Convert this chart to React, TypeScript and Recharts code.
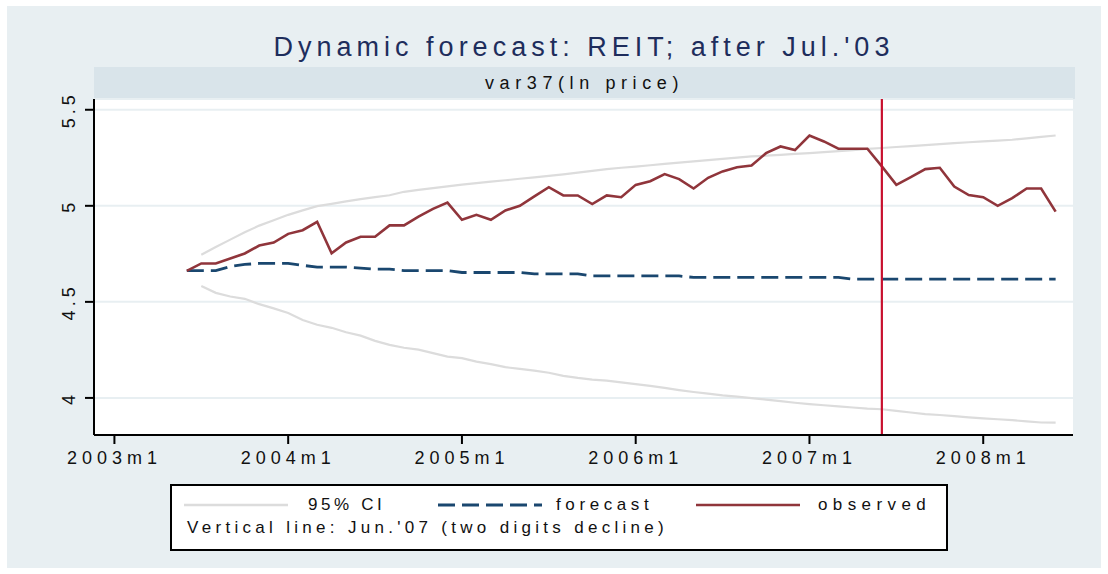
import React from 'react';
import { LineChart, Line, XAxis, YAxis, CartesianGrid, ReferenceLine } from 'recharts';

// months counted from 2003m1 (t = 0)
const months = Array.from({ length: 61 }, (_, i) => i + 5);

const observed = [
  4.661, 4.70, 4.70, 4.726, 4.752, 4.793, 4.809, 4.854, 4.873, 4.917,
  4.753, 4.809, 4.839, 4.839, 4.898, 4.898, 4.944, 4.984, 5.017, 4.927,
  4.953, 4.927, 4.976, 5.0, 5.049, 5.097, 5.054, 5.054, 5.009, 5.054,
  5.045, 5.109, 5.128, 5.165, 5.139, 5.09, 5.146, 5.179, 5.201, 5.21,
  5.274, 5.309, 5.29, 5.366, 5.335, 5.297, 5.297, 5.297, 5.205, 5.109,
  5.149, 5.191, 5.198, 5.10, 5.056, 5.045, 5.0, 5.04, 5.09, 5.09, 4.97,
];

const forecast = [
  4.663, 4.663, 4.663, 4.684, 4.695, 4.70, 4.70, 4.70, 4.69, 4.681,
  4.681, 4.681, 4.676, 4.67, 4.67, 4.663, 4.663, 4.663, 4.663, 4.653,
  4.653, 4.653, 4.653, 4.653, 4.646, 4.646, 4.646, 4.646, 4.635, 4.635,
  4.635, 4.635, 4.635, 4.635, 4.635, 4.627, 4.627, 4.627, 4.627, 4.627,
  4.627, 4.627, 4.627, 4.627, 4.627, 4.627, 4.618, 4.618, 4.618, 4.618,
  4.618, 4.618, 4.618, 4.618, 4.618, 4.618, 4.618, 4.618, 4.618, 4.618, 4.618,
];

// 95% CI starts one month later (t = 6)
const ciUpper = [
  4.745, 4.786, 4.824, 4.862, 4.897, 4.925, 4.953, 4.976, 4.998, 5.01,
  5.023, 5.035, 5.045, 5.055, 5.073, 5.083, 5.092, 5.101, 5.11, 5.118,
  5.126, 5.133, 5.141, 5.148, 5.156, 5.164, 5.173, 5.182, 5.191, 5.198,
  5.204, 5.211, 5.218, 5.225, 5.231, 5.238, 5.244, 5.251, 5.257, 5.261,
  5.265, 5.27, 5.274, 5.279, 5.285, 5.29, 5.296, 5.301, 5.306, 5.311,
  5.316, 5.321, 5.326, 5.331, 5.335, 5.339, 5.344, 5.351, 5.359, 5.366,
];

const ciLower = [
  4.583, 4.547, 4.528, 4.516, 4.488, 4.466, 4.442, 4.406, 4.381, 4.365,
  4.342, 4.324, 4.297, 4.276, 4.261, 4.251, 4.233, 4.215, 4.207, 4.189,
  4.176, 4.16, 4.151, 4.142, 4.131, 4.115, 4.104, 4.095, 4.09, 4.081,
  4.072, 4.063, 4.052, 4.041, 4.031, 4.022, 4.013, 4.007, 3.999, 3.991,
  3.983, 3.975, 3.968, 3.962, 3.956, 3.95, 3.944, 3.941, 3.933, 3.924,
  3.916, 3.911, 3.905, 3.899, 3.894, 3.889, 3.884, 3.878, 3.872, 3.871,
];

const xTicks = [0, 12, 24, 36, 48, 60];
const yTicks = [4, 4.5, 5, 5.5];
const breakMonth = 53; // Jun.'07

const data = months.map((t, i) => ({
  t,
  obs: observed[i],
  fc: forecast[i],
  hi: i === 0 ? null : ciUpper[i - 1],
  lo: i === 0 ? null : ciLower[i - 1],
}));

const FONT = '"Liberation Sans", Arial, sans-serif';
const GREY = '#dcdcdc';
const NAVY = '#1a476f';
const MAROON = '#90353b';
const RED = '#c8102e';

const XTick = ({ x, payload }: any) => (
  <text x={x} y={458} textAnchor="middle" dominantBaseline="central"
    fontFamily={FONT} fontSize={18} letterSpacing={5} fill="#111">
    {`${2003 + payload.value / 12}m1`}
  </text>
);

const YTick = ({ y, payload }: any) => (
  <text x={69} y={y} transform={`rotate(-90, 69, ${y})`} textAnchor="middle"
    dominantBaseline="central" fontFamily={FONT} fontSize={18} letterSpacing={4} fill="#111">
    {String(payload.value)}
  </text>
);

const LegendSample = ({ color, dash }: { color: string; dash?: string }) => (
  <svg width={104} height={6} style={{ display: 'block' }}>
    <line x1={0} y1={3} x2={104} y2={3} stroke={color} strokeWidth={dash ? 2.8 : 2.6} strokeDasharray={dash} />
  </svg>
);

export default function App() {
  const txt: React.CSSProperties = { fontFamily: FONT, fontSize: 17, letterSpacing: 3.6, color: '#111', whiteSpace: 'nowrap' };
  return (
    <div style={{ position: 'absolute', left: 0, top: 0, width: 1108, height: 574, background: '#fff' }}>
      <div style={{ position: 'absolute', left: 7, top: 6, width: 1094, height: 562, background: '#e8eff2' }} />
      <div style={{
        position: 'absolute', left: 0, width: 1168, top: 32, textAlign: 'center', fontFamily: FONT,
        fontSize: 27, letterSpacing: 5, color: '#1e2d5c', whiteSpace: 'nowrap',
      }}>
        Dynamic forecast: REIT; after Jul.'03
      </div>
      <div style={{
        position: 'absolute', left: 94, top: 67, width: 981, height: 32, background: '#d9e4ea',
        display: 'flex', alignItems: 'center', justifyContent: 'center',
        fontFamily: FONT, fontSize: 18, letterSpacing: 5.6, color: '#111',
      }}>
        var37(ln price)
      </div>
      <div style={{ position: 'absolute', left: 0, top: 0 }}>
        <LineChart width={1108} height={574} data={data} margin={{ top: 99, right: 35, bottom: 109, left: 64 }}>
          <CartesianGrid vertical={false} horizontal fill="#ffffff" stroke="#e8eff2" strokeWidth={2} />
          <XAxis
            type="number"
            dataKey="t"
            domain={[-1.41, 66.2]}
            ticks={xTicks}
            allowDataOverflow
            height={30}
            axisLine={{ stroke: '#000', strokeWidth: 2 }}
            tickLine={{ stroke: '#000', strokeWidth: 2 }}
            tickSize={9}
            tick={<XTick />}
            interval={0}
          />
          <YAxis
            type="number"
            domain={[3.807, 5.556]}
            ticks={yTicks}
            allowDataOverflow
            width={30}
            axisLine={{ stroke: '#000', strokeWidth: 2 }}
            tickLine={{ stroke: '#000', strokeWidth: 2 }}
            tickSize={9}
            tick={<YTick />}
            interval={0}
          />
          <Line dataKey="hi" stroke={GREY} strokeWidth={2.2} dot={false} isAnimationActive={false} />
          <Line dataKey="lo" stroke={GREY} strokeWidth={2.2} dot={false} isAnimationActive={false} />
          <Line dataKey="fc" stroke={NAVY} strokeWidth={2.8} strokeDasharray="17 7" dot={false} isAnimationActive={false} />
          <Line dataKey="obs" stroke={MAROON} strokeWidth={2.6} dot={false} isAnimationActive={false} />
          <ReferenceLine x={breakMonth} stroke={RED} strokeWidth={2.2} />
        </LineChart>
      </div>
      <div style={{
        position: 'absolute', left: 170, top: 484, width: 774, height: 63, background: '#fff',
        border: '2px solid #000',
      }}>
        <div style={{ position: 'absolute', left: 12, top: 9, display: 'flex', alignItems: 'center' }}>
          <LegendSample color={GREY} />
          <span style={{ ...txt, marginLeft: 20, width: 130 }}>95%  CI</span>
          <LegendSample color={NAVY} dash="17 7" />
          <span style={{ ...txt, marginLeft: 14, width: 140, letterSpacing: 4.6 }}>forecast</span>
          <LegendSample color={MAROON} />
          <span style={{ ...txt, marginLeft: 18, letterSpacing: 5.4 }}>observed</span>
        </div>
        <div style={{ ...txt, position: 'absolute', left: 15, top: 32, letterSpacing: 4.3 }}>
          Vertical line: Jun.'07 (two digits decline)
        </div>
      </div>
    </div>
  );
}
